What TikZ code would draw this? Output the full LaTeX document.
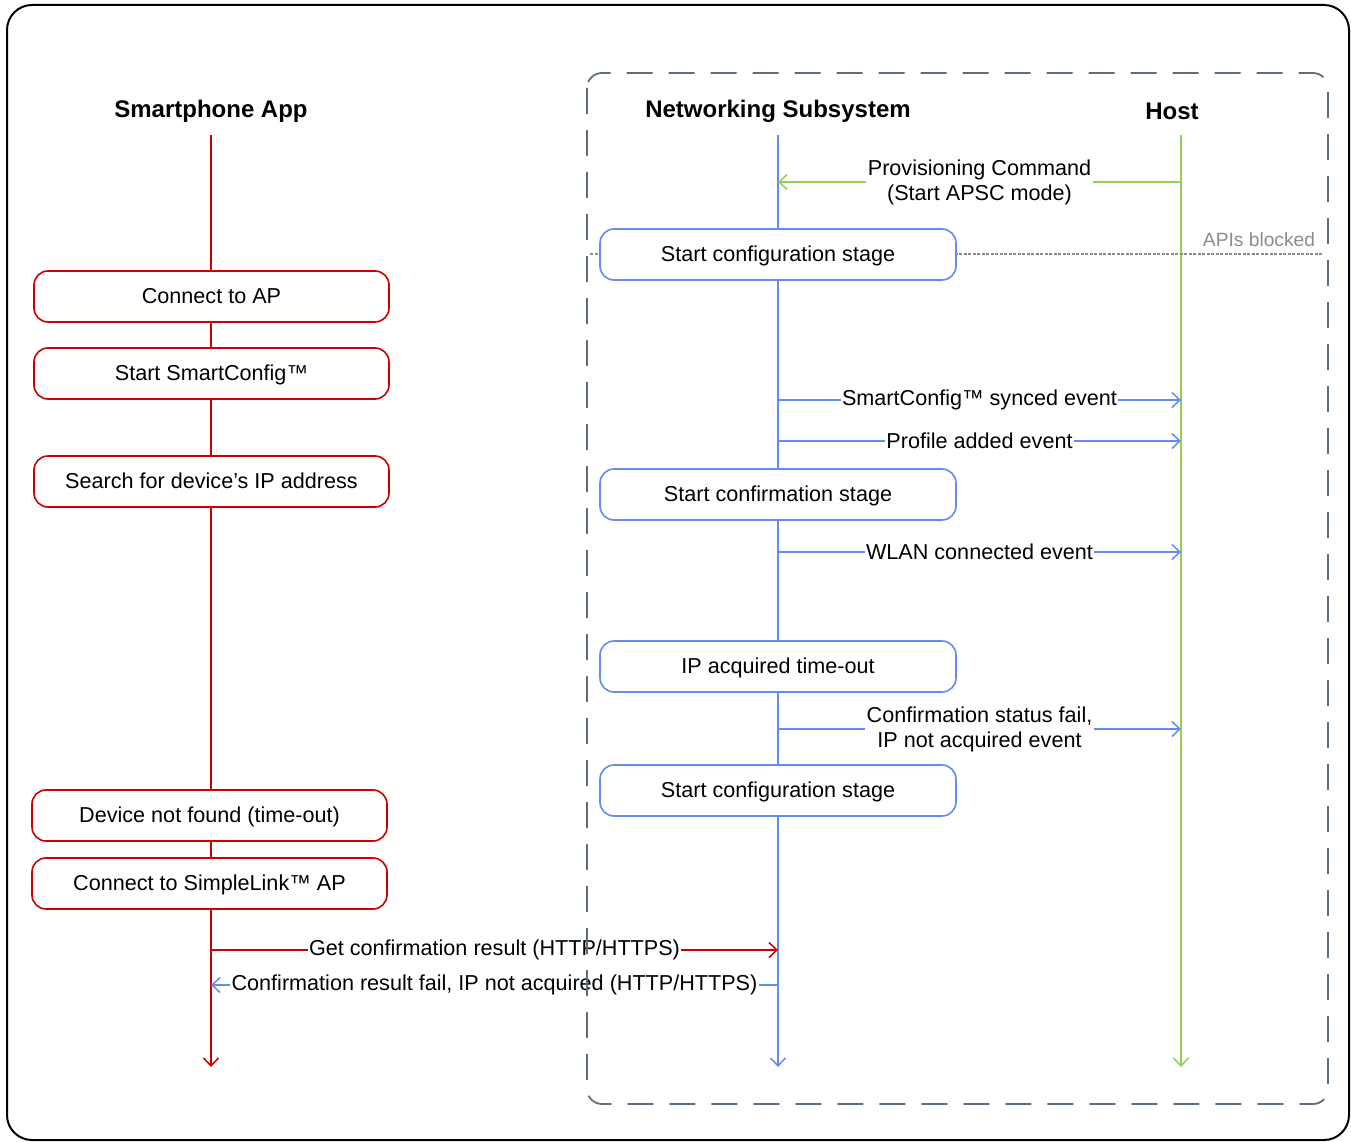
\documentclass[tikz,border=0pt]{standalone}
\usepackage{fontspec}
\setmainfont{Liberation Sans}
\usetikzlibrary{arrows.meta}
\definecolor{appred}{RGB}{204,0,0}
\definecolor{nsblue}{RGB}{100,140,240}
\definecolor{hostgreen}{RGB}{146,208,80}
\definecolor{frameslate}{RGB}{95,110,125}
\definecolor{apigray}{RGB}{140,140,140}
\begin{document}
\begin{tikzpicture}[x=1pt,y=-1pt,
  txt/.style={font=\fontsize{21.6}{25}\selectfont},
  head/.style={font=\fontsize{24}{28}\selectfont\bfseries},
  tip/.style={-{Straight Barb[length=8pt,width=15pt,line width=1.5pt]}},
  boxbase/.style={line width=1.6pt, rounded corners=14pt, fill=white, minimum height=51pt, inner sep=0pt, text height=16pt, text depth=1.5pt, txt},
  redbox/.style={boxbase, draw=appred, minimum width=355pt},
  bluebox/.style={boxbase, draw=nsblue, minimum width=356pt},
  redline/.style={draw=appred, line width=1.5pt},
  blueline/.style={draw=nsblue, line width=1.5pt},
  greenline/.style={draw=hostgreen, line width=1.5pt},
  msglabel/.style={fill=white, inner xsep=1.5pt, inner ysep=1pt, txt, align=center},
]
\useasboundingbox (0,0) rectangle (1351,1142);
\draw[black, line width=2pt, rounded corners=25pt] (7,5) rectangle (1349,1140);

% headers
\node[head] (hApp) at (211,111.5) {Smartphone App};
\node[head] (hNS) at (778,111.5) {Networking Subsystem};
\node[head] (hHost) at (1172,111.5) {Host};

% lifeline end points
\coordinate (aTop) at (211,135);
\coordinate (aBot) at (211,1067);
\coordinate (nTop) at (778,135);
\coordinate (nBot) at (778,1067);
\coordinate (hTop) at (1181,135);
\coordinate (hBot) at (1181,1067);

\draw[redline, tip] (aTop) -- (aBot);
\draw[blueline, tip] (nTop) -- (nBot);
\draw[greenline, tip] (hTop) -- (hBot);

% APIs blocked
\coordinate (apiL) at (590,254);
\coordinate (apiR) at (1322,254);
\draw[apigray, line width=1.2pt, dash pattern=on 3pt off 1.5pt] (apiL) -- (apiR);
\node[font=\fontsize{19.2}{22}\selectfont, text=apigray] (apiLbl) at (1259,240) {APIs blocked};

% app boxes
\node[redbox] (b1) at (211.5,296.5) {Connect to AP};
\node[redbox] (b2) at (211.5,373.5) {Start SmartConfig™};
\node[redbox] (b3) at (211.5,481.5) {Search for device’s IP address};
\node[redbox] (b4) at (209.5,815.5) {Device not found (time-out)};
\node[redbox] (b5) at (209.5,883.5) {Connect to SimpleLink™ AP};

% NS boxes
\node[bluebox] (n1) at (778,254.5) {Start configuration stage};
\node[bluebox] (n2) at (778,494.5) {Start confirmation stage};
\node[bluebox] (n3) at (778,666.5) {IP acquired time-out};
\node[bluebox] (n4) at (778,790.5) {Start configuration stage};

% messages
\coordinate (m1s) at (1181,182); \coordinate (m1e) at (778,182);
\draw[greenline, tip] (m1s) -- node[msglabel] (l1) {Provisioning Command\\(Start APSC mode)} (m1e);

\coordinate (m2s) at (778,400); \coordinate (m2e) at (1181,400);
\draw[blueline, tip] (m2s) -- node[msglabel] (l2) {SmartConfig™ synced event} (m2e);

\coordinate (m3s) at (778,441); \coordinate (m3e) at (1181,441);
\draw[blueline, tip] (m3s) -- node[msglabel] (l3) {Profile added event} (m3e);

\coordinate (m4s) at (778,552); \coordinate (m4e) at (1181,552);
\draw[blueline, tip] (m4s) -- node[msglabel] (l4) {WLAN connected event} (m4e);

\coordinate (m5s) at (778,729); \coordinate (m5e) at (1181,729);
\draw[blueline, tip] (m5s) -- node[msglabel] (l5) {Confirmation status fail,\\IP not acquired event} (m5e);

\coordinate (m6s) at (211,950); \coordinate (m6e) at (778,950);
\draw[redline, tip] (m6s) -- node[msglabel] (l6) {Get confirmation result (HTTP/HTTPS)} (m6e);

\coordinate (m7s) at (778,985); \coordinate (m7e) at (211,985);
\draw[blueline, tip] (m7s) -- node[msglabel] (l7) {Confirmation result fail, IP not acquired (HTTP/HTTPS)} (m7e);

% dashed container
\draw[frameslate, line width=1.8pt, dash pattern=on 26pt off 16pt, rounded corners=15pt] (587,73) rectangle (1328,1104);
\end{tikzpicture}
\end{document}
